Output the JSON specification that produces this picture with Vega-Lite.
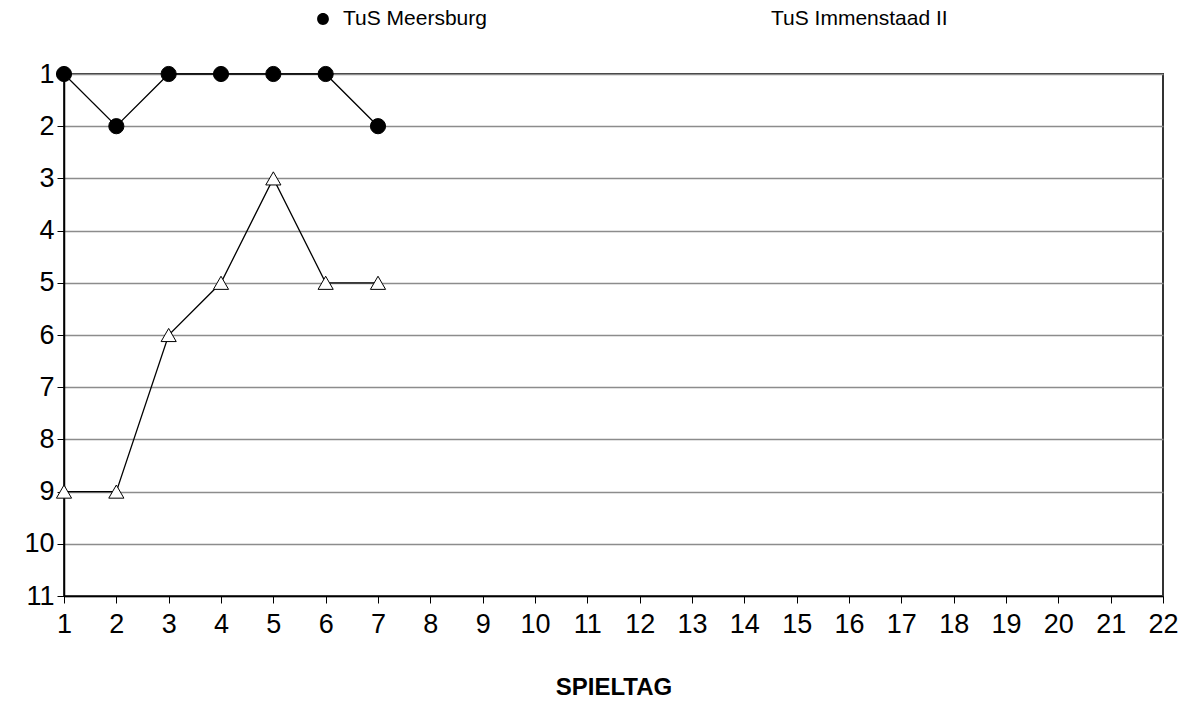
{
  "$schema": "https://vega.github.io/schema/vega-lite/v6.json",
  "autosize": {"type": "none"},
  "padding": {"left": 64, "top": 74, "right": 18, "bottom": 130},
  "width": 1099,
  "height": 522,
  "background": "white",
  "config": {
    "font": "Liberation Sans",
    "view": {"stroke": "#333333", "strokeWidth": 2},
    "legend": {
      "title": null,
      "orient": "none",
      "legendX": 243,
      "legendY": -71,
      "direction": "horizontal",
      "gridAlign": "all",
      "columnPadding": 213,
      "labelFontSize": 21,
      "labelColor": "black",
      "labelOffset": 4,
      "labelLimit": 300,
      "symbolSize": 961,
      "symbolOpacity": 1,
      "symbolStrokeColor": "black",
      "symbolStrokeWidth": 1
    }
  },
  "data": {
    "values": [
      {"spieltag": 1, "platz": 1, "team": "TuS Meersburg"},
      {"spieltag": 2, "platz": 2, "team": "TuS Meersburg"},
      {"spieltag": 3, "platz": 1, "team": "TuS Meersburg"},
      {"spieltag": 4, "platz": 1, "team": "TuS Meersburg"},
      {"spieltag": 5, "platz": 1, "team": "TuS Meersburg"},
      {"spieltag": 6, "platz": 1, "team": "TuS Meersburg"},
      {"spieltag": 7, "platz": 2, "team": "TuS Meersburg"},
      {"spieltag": 1, "platz": 9, "team": "TuS Immenstaad II"},
      {"spieltag": 2, "platz": 9, "team": "TuS Immenstaad II"},
      {"spieltag": 3, "platz": 6, "team": "TuS Immenstaad II"},
      {"spieltag": 4, "platz": 5, "team": "TuS Immenstaad II"},
      {"spieltag": 5, "platz": 3, "team": "TuS Immenstaad II"},
      {"spieltag": 6, "platz": 5, "team": "TuS Immenstaad II"},
      {"spieltag": 7, "platz": 5, "team": "TuS Immenstaad II"}
    ]
  },
  "encoding": {
    "x": {
      "field": "spieltag",
      "type": "quantitative",
      "scale": {"domain": [1, 22], "nice": false, "zero": false},
      "axis": {
        "title": "SPIELTAG",
        "titleFontSize": 24,
        "titleFontWeight": "bold",
        "titleColor": "black",
        "titlePadding": 38,
        "values": [1,2,3,4,5,6,7,8,9,10,11,12,13,14,15,16,17,18,19,20,21,22],
        "format": "d",
        "labelFontSize": 27,
        "labelColor": "black",
        "labelPadding": 8,
        "labelFlush": false,
        "labelOverlap": false,
        "tickColor": "black",
        "tickSize": 7,
        "domainColor": "black",
        "domainWidth": 1.5,
        "grid": false
      }
    },
    "y": {
      "field": "platz",
      "type": "quantitative",
      "scale": {"domain": [1, 11], "reverse": true, "nice": false, "zero": false},
      "axis": {
        "title": null,
        "values": [1,2,3,4,5,6,7,8,9,10,11],
        "format": "d",
        "labelFontSize": 27,
        "labelColor": "black",
        "labelPadding": 3,
        "labelFlush": false,
        "labelOverlap": false,
        "tickColor": "black",
        "tickSize": 7,
        "domainColor": "black",
        "domainWidth": 1.5,
        "grid": true,
        "gridColor": "#8c8c8c",
        "gridWidth": 1.5
      }
    }
  },
  "resolve": {"scale": {"shape": "independent", "fill": "independent"}, "legend": {"shape": "independent", "fill": "independent"}},
  "layer": [
    {
      "mark": {"type": "line", "color": "black", "strokeWidth": 1.3},
      "encoding": {"detail": {"field": "team"}}
    },
    {
      "mark": {"type": "point", "filled": true, "stroke": "black", "strokeWidth": 1, "size": 230, "opacity": 1},
      "encoding": {
        "shape": {
          "field": "team",
          "type": "nominal",
          "scale": {"domain": ["TuS Immenstaad II", "TuS Meersburg"], "range": ["triangle-up", "circle"]},
          "legend": null
        },
        "fill": {
          "field": "team",
          "type": "nominal",
          "scale": {"domain": ["TuS Immenstaad II", "TuS Meersburg"], "range": ["white", "black"]},
          "legend": null
        }
      }
    },
    {
      "mark": {"type": "point", "filled": true, "stroke": "black", "strokeWidth": 1, "size": 230, "opacity": 0},
      "encoding": {
        "shape": {
          "field": "team",
          "type": "nominal",
          "scale": {"domain": ["TuS Meersburg", "TuS Immenstaad II"], "range": ["M-1,0H1M-0.38,0A0.38,0.38,0,1,0,0.38,0A0.38,0.38,0,1,0,-0.38,0Z", "M-1,0H-0.17M0.17,0H1M0,-0.32L0.3,0.24L-0.3,0.24Z"]},
          "legend": {}
        },
        "fill": {
          "field": "team",
          "type": "nominal",
          "scale": {"domain": ["TuS Meersburg", "TuS Immenstaad II"], "range": ["black", "white"]},
          "legend": {}
        }
      }
    }
  ]
}
